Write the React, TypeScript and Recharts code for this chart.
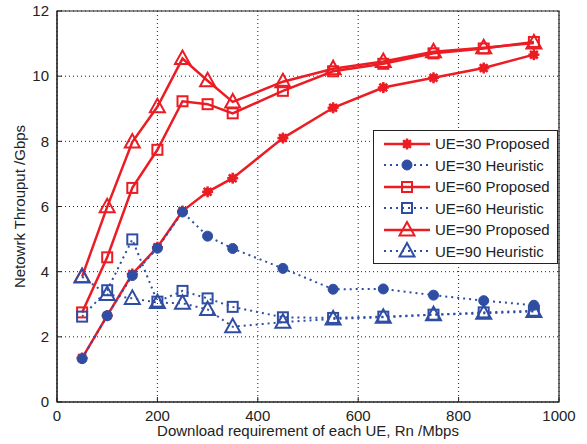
import React from "react";
import {
  CartesianGrid,
  Line,
  LineChart,
  ReferenceArea,
  XAxis,
  YAxis,
} from "recharts";

const rates = [50, 100, 150, 200, 250, 300, 350, 450, 550, 650, 750, 850, 950];
const ue30Proposed = [1.35, 2.65, 3.93, 4.75, 5.86, 6.45, 6.87, 8.1, 9.03, 9.65, 9.95, 10.25, 10.66];
const ue30Heuristic = [1.33, 2.65, 3.88, 4.72, 5.83, 5.09, 4.71, 4.1, 3.46, 3.47, 3.28, 3.11, 2.97];
const ue60Proposed = [2.75, 4.44, 6.57, 7.74, 9.23, 9.14, 8.86, 9.55, 10.15, 10.38, 10.7, 10.85, 11.05];
const ue60Heuristic = [2.62, 3.43, 4.99, 3.08, 3.41, 3.18, 2.92, 2.6, 2.58, 2.62, 2.68, 2.75, 2.8];
const ue90Proposed = [3.85, 5.99, 7.98, 9.06, 10.54, 9.86, 9.21, 9.83, 10.23, 10.45, 10.75, 10.87, 11.02];
const ue90Heuristic = [3.84, 3.3, 3.18, 3.05, 3.03, 2.84, 2.31, 2.45, 2.55, 2.6, 2.68, 2.72, 2.78];

const xTicks = [0, 200, 400, 600, 800, 1000];
const yTicks = [0, 2, 4, 6, 8, 10, 12];

const RED = "#ec1c24";
const BLUE = "#2f4ea3";
const INK = "#222";
const FONT = "'Liberation Sans', Arial, sans-serif";

const data = rates.map((r, i) => ({
  rate: r,
  p30: ue30Proposed[i],
  h30: ue30Heuristic[i],
  p60: ue60Proposed[i],
  h60: ue60Heuristic[i],
  p90: ue90Proposed[i],
  h90: ue90Heuristic[i],
}));

type Shape = "star" | "circle" | "square" | "triangle";

function Marker({ cx, cy, shape, color }: { cx: number; cy: number; shape: Shape; color: string }) {
  if (shape === "circle") {
    return <circle cx={cx} cy={cy} r={5} fill={color} stroke={color} strokeWidth={1} />;
  }
  if (shape === "star") {
    const lines = [0, 45, 90, 135].map((a) => {
      const rad = (a * Math.PI) / 180;
      const dx = Math.cos(rad) * 5.5;
      const dy = Math.sin(rad) * 5.5;
      return <line key={a} x1={cx - dx} y1={cy - dy} x2={cx + dx} y2={cy + dy} stroke={color} strokeWidth={2.5} />;
    });
    return (
      <g>
        <circle cx={cx} cy={cy} r={4} fill={color} />
        {lines}
      </g>
    );
  }
  if (shape === "square") {
    return <rect x={cx - 5} y={cy - 5} width={10} height={10} fill="none" stroke={color} strokeWidth={2} />;
  }
  return (
    <polygon
      points={`${cx},${cy - 8} ${cx - 7.5},${cy + 5.5} ${cx + 7.5},${cy + 5.5}`}
      fill="none"
      stroke={color}
      strokeWidth={2}
    />
  );
}

const series: { key: string; name: string; shape: Shape; color: string; dotted: boolean }[] = [
  { key: "p30", name: "UE=30 Proposed", shape: "star", color: RED, dotted: false },
  { key: "h30", name: "UE=30 Heuristic", shape: "circle", color: BLUE, dotted: true },
  { key: "p60", name: "UE=60 Proposed", shape: "square", color: RED, dotted: false },
  { key: "h60", name: "UE=60 Heuristic", shape: "square", color: BLUE, dotted: true },
  { key: "p90", name: "UE=90 Proposed", shape: "triangle", color: RED, dotted: false },
  { key: "h90", name: "UE=90 Heuristic", shape: "triangle", color: BLUE, dotted: true },
];

// legend sits inside the plot, drawn over the chart
function LegendBox() {
  return (
    <div
      style={{
        position: "absolute",
        left: 373,
        top: 130,
        border: `1.5px solid ${INK}`,
        background: "#fff",
        width: 185,
        height: 134,
        boxSizing: "border-box",
        padding: "2px 0 0 8px",
        fontFamily: FONT,
        fontSize: 15,
        color: INK,
      }}
    >
      {series.map((s) => (
        <div key={s.key} style={{ display: "flex", alignItems: "center", height: 21.5 }}>
          <svg width={50} height={20}>
            <line
              x1={2}
              y1={10}
              x2={48}
              y2={10}
              stroke={s.color}
              strokeWidth={s.dotted ? 2 : 2.5}
              strokeDasharray={s.dotted ? "2 4" : undefined}
            />
            <Marker cx={25} cy={10} shape={s.shape} color={s.color} />
          </svg>
          <span style={{ marginLeft: 3, whiteSpace: "nowrap" }}>{s.name}</span>
        </div>
      ))}
    </div>
  );
}

const tickStyle = { fill: INK, fontSize: 15, fontFamily: FONT };

export default function App() {
  return (
    <div style={{ position: "fixed", left: 0, top: 0, width: 587, height: 444, background: "#fff" }}>
      <LineChart width={587} height={444} data={data} margin={{ top: 11, right: 28, bottom: 17, left: 20 }}>
        <CartesianGrid stroke={INK} strokeDasharray="1 3" />
        <XAxis
          dataKey="rate"
          type="number"
          domain={[0, 1000]}
          ticks={xTicks}
          height={25}
          tickSize={-5}
          tickMargin={13}
          tickLine={{ stroke: INK }}
          axisLine={{ stroke: INK }}
          tick={tickStyle}
          label={{
            value: "Download requirement of each UE, Rn /Mbps",
            position: "insideBottom",
            offset: -9,
            fill: INK,
            fontSize: 15,
            fontFamily: FONT,
          }}
        />
        <XAxis
          xAxisId="top"
          orientation="top"
          dataKey="rate"
          type="number"
          domain={[0, 1000]}
          ticks={xTicks}
          height={0}
          tickSize={-5}
          tickLine={{ stroke: INK }}
          axisLine={false}
          tick={false}
        />
        <YAxis
          type="number"
          domain={[0, 12]}
          ticks={yTicks}
          width={37}
          tickSize={-5}
          tickMargin={13}
          tickLine={{ stroke: INK }}
          axisLine={{ stroke: INK }}
          tick={tickStyle}
          label={{
            value: "Netowrk Throuput /Gbps",
            angle: -90,
            position: "insideLeft",
            offset: 0,
            style: { textAnchor: "middle" },
            fill: INK,
            fontSize: 15,
            fontFamily: FONT,
          }}
        />
        <YAxis
          yAxisId="right"
          orientation="right"
          type="number"
          domain={[0, 12]}
          ticks={yTicks}
          width={0}
          tickSize={-5}
          tickLine={{ stroke: INK }}
          axisLine={false}
          tick={false}
        />
        <ReferenceArea x1={0} x2={1000} y1={0} y2={12} fill="none" stroke={INK} strokeWidth={1.2} />
        {series.map((s) => (
          <Line
            key={s.key}
            dataKey={s.key}
            name={s.name}
            type="linear"
            stroke={s.color}
            strokeWidth={s.dotted ? 2 : 2.5}
            strokeDasharray={s.dotted ? "2 4" : undefined}
            isAnimationActive={false}
            dot={(p: any) => <Marker key={`${s.key}-${p.index}`} cx={p.cx} cy={p.cy} shape={s.shape} color={s.color} />}
            activeDot={false}
          />
        ))}
      </LineChart>
      <LegendBox />
    </div>
  );
}
